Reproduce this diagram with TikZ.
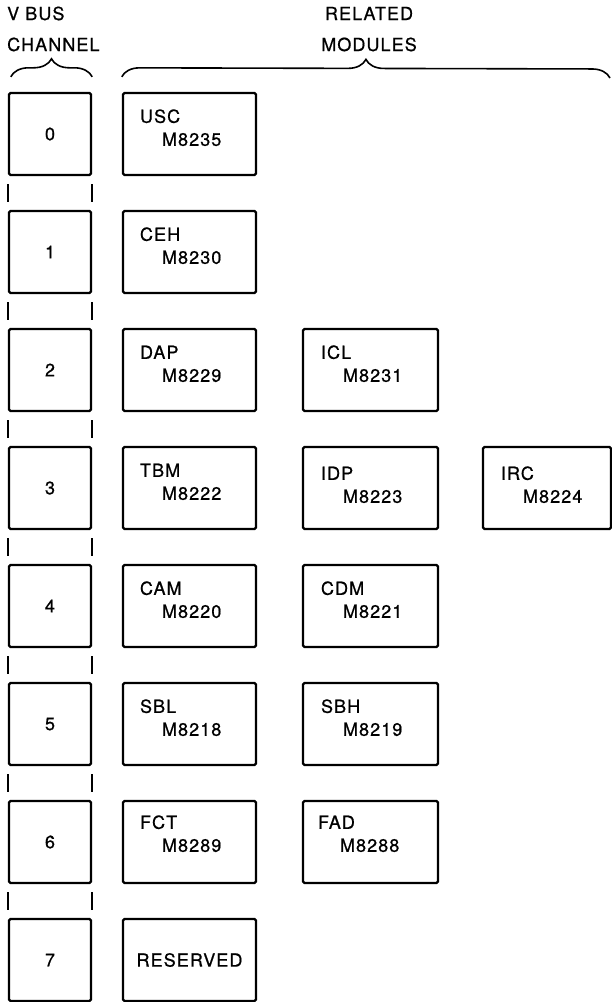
\documentclass[tikz,border=0pt]{standalone}
\usepackage{fontspec}
\setmainfont{TeX Gyre Heros}[LetterSpace=6, FakeBold=0.8]
\usepackage{tikz}
\usetikzlibrary{decorations.pathreplacing}
\tikzset{
  chbx/.style={draw=black, line width=2.4pt, rounded corners=1.5pt, minimum width=82pt,
               minimum height=82pt, inner sep=0pt, font=\fontsize{18}{23}\selectfont},
  modbx/.style={draw=black, line width=2.4pt, rounded corners=1.5pt, minimum width=#1,
                minimum height=82pt, inner sep=0pt, font=\fontsize{18}{23}\selectfont},
  modtx/.style={anchor=base west, align=left, inner sep=0pt,
                font=\fontsize{18}{23}\selectfont},
  hdr/.style={align=#1, inner sep=0pt, font=\fontsize{18}{31}\selectfont},
  brc/.style={decorate, decoration={brace, amplitude=18pt}, line width=1.6pt},
  tick/.style={line width=2pt},
}

\begin{document}
\begin{tikzpicture}[x=1pt, y=-1pt]
    \useasboundingbox (0,0) rectangle (612,1002);

    % headings
    \node[hdr=left,   anchor=base west] (hc) at (7,51)    {V BUS\\CHANNEL};
    \node[hdr=center, anchor=base]      (hm) at (369,51)  {RELATED\\MODULES};

    % V bus channels
    \node[chbx] (c0) at (50,134) {0};
    \node[chbx] (c1) at (50,252) {1};
    \node[chbx] (c2) at (50,370) {2};
    \node[chbx] (c3) at (50,488) {3};
    \node[chbx] (c4) at (50,606) {4};
    \node[chbx] (c5) at (50,724) {5};
    \node[chbx] (c6) at (50,842) {6};
    \node[chbx] (c7) at (50,960) {7};

    % related modules
    \node[modbx=133pt] (m0a) at (189.5,134) {};
    \node[modbx=133pt] (m1a) at (189.5,252) {};
    \node[modbx=133pt] (m2a) at (189.5,370) {};
    \node[modbx=135pt] (m2b) at (370.5,370) {};
    \node[modbx=133pt] (m3a) at (189.5,488) {};
    \node[modbx=135pt] (m3b) at (370.5,488) {};
    \node[modbx=128pt] (m3c) at (547,488)   {};
    \node[modbx=133pt] (m4a) at (189.5,606) {};
    \node[modbx=135pt] (m4b) at (370.5,606) {};
    \node[modbx=133pt] (m5a) at (189.5,724) {};
    \node[modbx=135pt] (m5b) at (370.5,724) {};
    \node[modbx=133pt] (m6a) at (189.5,842) {};
    \node[modbx=135pt] (m6b) at (370.5,842) {};
    \node[modbx=133pt] (m7a) at (189.5,960) {RESERVED};

    \node[modtx] (t0a) at ([shift={(18pt,-54pt)}]m0a.north west) {USC\\\hspace*{22pt}M8235};
    \node[modtx] (t1a) at ([shift={(18pt,-54pt)}]m1a.north west) {CEH\\\hspace*{22pt}M8230};
    \node[modtx] (t2a) at ([shift={(18pt,-54pt)}]m2a.north west) {DAP\\\hspace*{22pt}M8229};
    \node[modtx] (t2b) at ([shift={(19pt,-54pt)}]m2b.north west) {ICL\\\hspace*{22pt}M8231};
    \node[modtx] (t3a) at ([shift={(18pt,-54pt)}]m3a.north west) {TBM\\\hspace*{22pt}M8222};
    \node[modtx] (t3b) at ([shift={(19pt,-57pt)}]m3b.north west) {IDP\\\hspace*{22pt}M8223};
    \node[modtx] (t3c) at ([shift={(19pt,-57pt)}]m3c.north west) {IRC\\\hspace*{22pt}M8224};
    \node[modtx] (t4a) at ([shift={(18pt,-54pt)}]m4a.north west) {CAM\\\hspace*{22pt}M8220};
    \node[modtx] (t4b) at ([shift={(19pt,-54pt)}]m4b.north west) {CDM\\\hspace*{22pt}M8221};
    \node[modtx] (t5a) at ([shift={(18pt,-54pt)}]m5a.north west) {SBL\\\hspace*{22pt}M8218};
    \node[modtx] (t5b) at ([shift={(19pt,-54pt)}]m5b.north west) {SBH\\\hspace*{22pt}M8219};
    \node[modtx] (t6a) at ([shift={(18pt,-52pt)}]m6a.north west) {FCT\\\hspace*{22pt}M8289};
    \node[modtx] (t6b) at ([shift={(16pt,-52pt)}]m6b.north west) {FAD\\\hspace*{22pt}M8288};

    % bus links between channels
    \draw[tick] ([yshift=-8pt]c0.south west) -- ([yshift=8pt]c1.north west);
    \draw[tick] ([yshift=-8pt]c0.south east) -- ([yshift=8pt]c1.north east);
    \draw[tick] ([yshift=-8pt]c1.south west) -- ([yshift=8pt]c2.north west);
    \draw[tick] ([yshift=-8pt]c1.south east) -- ([yshift=8pt]c2.north east);
    \draw[tick] ([yshift=-8pt]c2.south west) -- ([yshift=8pt]c3.north west);
    \draw[tick] ([yshift=-8pt]c2.south east) -- ([yshift=8pt]c3.north east);
    \draw[tick] ([yshift=-8pt]c3.south west) -- ([yshift=8pt]c4.north west);
    \draw[tick] ([yshift=-8pt]c3.south east) -- ([yshift=8pt]c4.north east);
    \draw[tick] ([yshift=-8pt]c4.south west) -- ([yshift=8pt]c5.north west);
    \draw[tick] ([yshift=-8pt]c4.south east) -- ([yshift=8pt]c5.north east);
    \draw[tick] ([yshift=-8pt]c5.south west) -- ([yshift=8pt]c6.north west);
    \draw[tick] ([yshift=-8pt]c5.south east) -- ([yshift=8pt]c6.north east);
    \draw[tick] ([yshift=-8pt]c6.south west) -- ([yshift=8pt]c7.north west);
    \draw[tick] ([yshift=-8pt]c6.south east) -- ([yshift=8pt]c7.north east);

    % braces
    \coordinate (bR) at (610,78);
    \draw[brc] ([shift={(3pt,15pt)}]c0.north west) -- ([yshift=15pt]c0.north east);
    \draw[brc] ([yshift=15pt]m0a.north west) -- (bR);
\end{tikzpicture}
\end{document}
